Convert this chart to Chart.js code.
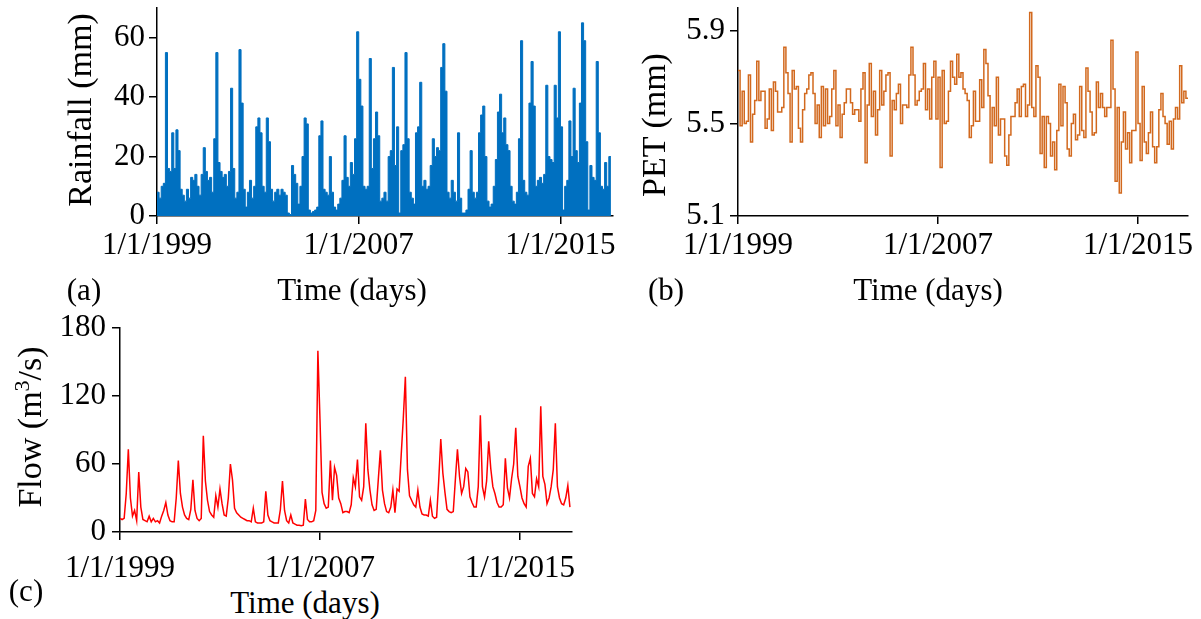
<!DOCTYPE html>
<html>
<head>
<meta charset="utf-8">
<script src="https://cdn.jsdelivr.net/npm/chart.js@4.4.0/dist/chart.umd.min.js"></script>
<style>
  body { margin: 0; background: #fff; }
  #wrap { position: relative; width: 1201px; height: 619px; overflow: hidden; background: #fff;
          font-family: 'Liberation Serif', 'Times New Roman', serif; }
  canvas { position: absolute; }
  .lbl { position: absolute; font-size: 31px; color: #000; white-space: nowrap; line-height: 1;
         transform: translate(-50%, -50%); }
  .rot { font-size: 34px; transform: translate(-50%, -50%) rotate(-90deg); }
</style>
</head>
<body>
<div id="wrap">
  <canvas id="rainChart" width="620" height="300" style="left:0;top:0"></canvas>
  <canvas id="petChart" width="581" height="300" style="left:620px;top:0"></canvas>
  <canvas id="flowChart" width="620" height="270" style="left:0;top:310px"></canvas>

  <div class="lbl rot" style="left:80px;top:110px">Rainfall (mm)</div>
  <div class="lbl" style="left:84px;top:289px">(a)</div>
  <div class="lbl" style="left:352px;top:289px">Time (days)</div>

  <div class="lbl rot" style="left:654px;top:125px">PET (mm)</div>
  <div class="lbl" style="left:666px;top:289px">(b)</div>
  <div class="lbl" style="left:928px;top:289px">Time (days)</div>

  <div class="lbl rot" style="left:29px;top:427px">Flow (m<sup style="font-size:22px">3</sup>/s)</div>
  <div class="lbl" style="left:26px;top:590px">(c)</div>
  <div class="lbl" style="left:305px;top:602px">Time (days)</div>
</div>

<script>
// x axis is months since 1/1/1999
const tickMonths = [0, 96, 192];
const tickLabels = ['1/1/1999', '1/1/2007', '1/1/2015'];

const rainTicks = [0, 20, 40, 60];
const petTicks = [5.1, 5.5, 5.9];
const flowTicks = [0, 60, 120, 180];

// monthly rainfall (mm), Jan 1999 - Dec 2016
const rainfall = [
  8, 6, 10, 11, 55, 16, 15, 28, 16, 29, 22, 9,
  7, 5, 9, 6, 13, 12, 14, 10, 7, 14, 23, 15,
  12, 13, 8, 26, 55, 18, 15, 13, 14, 10, 15, 43,
  16, 6, 8, 56, 38, 9, 3, 8, 12, 6, 10, 30,
  33, 28, 10, 8, 33, 25, 9, 5, 8, 9, 7, 9,
  8, 7, 1, 0.5, 17, 14, 11, 4, 10, 20, 33, 31,
  2, 1, 1.5, 2, 3, 27, 32, 9, 8, 7, 20, 8,
  3, 2, 4, 6, 12, 27, 13, 10, 18, 14, 26, 62,
  46, 37, 10, 9, 10, 53, 16, 26, 35, 27, 5, 6,
  8, 5, 20, 22, 50, 17, 30, 1, 22, 24, 55, 26,
  8, 6, 4, 28, 30, 45, 10, 12, 9, 10, 17, 26,
  20, 23, 22, 50, 58, 42, 8, 6, 12, 8, 5, 28,
  6, 1, 1, 2, 9, 22, 8, 6, 8, 28, 34, 37,
  20, 5, 3, 4, 10, 19, 35, 41, 28, 33, 24, 22,
  10, 5, 4, 8, 26, 59, 12, 8, 7, 38, 52, 37,
  10, 12, 13, 11, 14, 44, 20, 19, 18, 44, 33, 62,
  30, 2, 10, 12, 32, 20, 43, 22, 18, 38, 65, 59,
  25, 2, 17, 13, 12, 52, 28, 10, 9, 18, 10, 20
];

// monthly PET (mm)
const pet = [
  5.73, 5.49, 5.64, 5.50, 5.51, 5.71, 5.42, 5.54, 5.60, 5.77, 5.60, 5.64,
  5.64, 5.48, 5.52, 5.65, 5.47, 5.68, 5.64, 5.55, 5.55, 5.57, 5.83, 5.72,
  5.63, 5.42, 5.73, 5.65, 5.66, 5.48, 5.42, 5.56, 5.63, 5.65, 5.71, 5.72,
  5.63, 5.50, 5.58, 5.44, 5.66, 5.49, 5.65, 5.50, 5.53, 5.65, 5.73, 5.49,
  5.58, 5.44, 5.54, 5.59, 5.65, 5.65, 5.59, 5.54, 5.56, 5.56, 5.51, 5.65,
  5.72, 5.33, 5.58, 5.76, 5.53, 5.64, 5.45, 5.56, 5.73, 5.58, 5.64, 5.71,
  5.72, 5.36, 5.60, 5.56, 5.63, 5.67, 5.50, 5.58, 5.58, 5.57, 5.71, 5.83,
  5.71, 5.58, 5.60, 5.64, 5.65, 5.76, 5.56, 5.65, 5.52, 5.70, 5.77, 5.52,
  5.70, 5.31, 5.73, 5.50, 5.51, 5.64, 5.77, 5.70, 5.67, 5.80, 5.70, 5.72,
  5.65, 5.63, 5.60, 5.44, 5.49, 5.64, 5.51, 5.51, 5.69, 5.57, 5.82, 5.76,
  5.62, 5.33, 5.57, 5.49, 5.70, 5.45, 5.52, 5.52, 5.36, 5.32, 5.45, 5.53,
  5.53, 5.59, 5.65, 5.53, 5.66, 5.67, 5.53, 5.58, 5.98, 5.57, 5.53, 5.75,
  5.70, 5.37, 5.53, 5.31, 5.53, 5.50, 5.36, 5.42, 5.30, 5.47, 5.67, 5.49,
  5.66, 5.59, 5.39, 5.36, 5.50, 5.54, 5.43, 5.45, 5.66, 5.47, 5.44, 5.74,
  5.64, 5.55, 5.45, 5.46, 5.68, 5.57, 5.63, 5.57, 5.53, 5.57, 5.57, 5.86,
  5.65, 5.25, 5.57, 5.20, 5.42, 5.55, 5.39, 5.46, 5.33, 5.47, 5.47, 5.81,
  5.50, 5.34, 5.66, 5.42, 5.37, 5.46, 5.55, 5.40, 5.33, 5.40, 5.56, 5.63,
  5.53, 5.50, 5.41, 5.51, 5.39, 5.52, 5.57, 5.52, 5.75, 5.59, 5.64, 5.61
];

// monthly flow (m3/s), last entry is Jan 2017
const flow = [
  12, 11, 12, 34, 73, 30, 14, 19, 10, 53, 22, 11,
  10, 9, 14, 9, 12, 9, 10, 8, 14, 19, 26, 15,
  10, 9, 9, 30, 63, 34, 22, 15, 12, 11, 20, 46,
  19, 12, 10, 12, 85, 45, 28, 18, 15, 13, 32, 22,
  38, 25, 15, 14, 30, 60, 46, 21, 17, 15, 13, 12,
  11, 10, 10, 9, 21, 9, 8, 8, 8, 9, 36, 15,
  10, 9, 8, 8, 8, 20, 45, 19, 10, 8, 15, 8,
  7, 6, 6, 5.5, 6, 29, 11, 9, 9, 10, 19, 160,
  100, 35, 25, 21, 22, 63, 28, 57, 50, 30, 25, 17,
  18, 18, 17, 24, 48, 40, 64, 31, 28, 40, 96, 55,
  37, 24, 19, 20, 46, 72, 37, 25, 18, 17, 22, 37,
  17, 38, 36, 68, 100, 137, 55, 32, 28, 24, 22, 37,
  22, 16, 15, 15, 14, 28, 14, 12, 13, 45, 82, 52,
  35, 20, 18, 17, 18, 46, 73, 49, 34, 40, 56, 53,
  31, 26, 22, 22, 40, 103, 40, 31, 45, 80, 56, 40,
  34, 26, 22, 22, 24, 65, 39, 30, 47, 60, 92, 49,
  40, 30, 25, 22, 58, 65, 34, 31, 47, 40, 111, 49,
  42, 25, 30, 40, 55, 96, 40, 30, 25, 24, 30, 41, 22
];

const FONT = "'Liberation Serif', 'Times New Roman', serif";

// stepped series need a closing point so the last month gets its full width
function monthPoints(values, closeStep) {
  const pts = values.map((v, i) => ({ x: i, y: v }));
  if (closeStep) pts.push({ x: values.length, y: values[values.length - 1] });
  return pts;
}

function xAxis(maxMonth, height, pad) {
  return {
    type: 'linear', min: 0, max: maxMonth,
    grid: { drawOnChartArea: false, drawTicks: true, tickLength: 8, color: '#000', lineWidth: 1.5 },
    border: { display: true, color: '#000', width: 1.5 },
    ticks: {
      color: '#000', font: { family: FONT, size: 31 }, padding: pad,
      maxRotation: 0, autoSkip: false,
      callback: v => tickLabels[tickMonths.indexOf(v)]
    },
    afterBuildTicks: axis => { axis.ticks = tickMonths.map(v => ({ value: v })); },
    afterFit: axis => { axis.height = height; }
  };
}

function yAxis(min, max, ticks, width, pad) {
  return {
    min: min, max: max,
    grid: { drawOnChartArea: false, drawTicks: true, tickLength: 8, color: '#000', lineWidth: 1.5 },
    border: { display: true, color: '#000', width: 1.5 },
    ticks: { color: '#000', font: { family: FONT, size: 31 }, padding: pad },
    afterBuildTicks: axis => { axis.ticks = ticks.map(v => ({ value: v })); },
    afterFit: axis => {
      axis.width = width;
      // let layout padding alone decide where the plot top sits
      axis.paddingTop = 0;
      axis.paddingBottom = 0;
    }
  };
}

function baseOptions(padding, scales) {
  return {
    responsive: false,
    animation: false,
    devicePixelRatio: 1,
    layout: { padding: padding },
    plugins: { legend: { display: false }, tooltip: { enabled: false } },
    elements: { point: { radius: 0 } },
    scales: scales
  };
}

// (a) rainfall
new Chart(document.getElementById('rainChart'), {
  type: 'line',
  data: {
    datasets: [{
      data: monthPoints(rainfall, true),
      stepped: true,
      fill: 'origin',
      borderColor: '#0070C0',
      backgroundColor: '#0070C0',
      borderWidth: 1
    }]
  },
  options: baseOptions({ top: 8, right: 7, left: 0, bottom: 0 }, {
    x: xAxis(217, 84, 3),
    y: yAxis(0, 70, rainTicks, 157, 4)
  })
});

// (b) PET
new Chart(document.getElementById('petChart'), {
  type: 'line',
  data: {
    datasets: [{
      data: monthPoints(pet, true),
      stepped: true,
      fill: false,
      borderColor: '#D2691E',
      borderWidth: 1.5
    }]
  },
  options: baseOptions({ top: 8, right: 13, left: 0, bottom: 0 }, {
    x: xAxis(216, 84, 3),
    y: yAxis(5.1, 6.0, petTicks, 118, 5)
  })
});

// (c) flow
new Chart(document.getElementById('flowChart'), {
  type: 'line',
  data: {
    datasets: [{
      data: monthPoints(flow, false),
      fill: false,
      tension: 0,
      borderColor: '#FF0000',
      borderWidth: 1.5
    }]
  },
  options: baseOptions({ top: 18, right: 48, left: 0, bottom: 0 }, {
    x: xAxis(217, 48, 10),
    y: yAxis(0, 180, flowTicks, 120, 6)
  })
});
</script>
</body>
</html>
